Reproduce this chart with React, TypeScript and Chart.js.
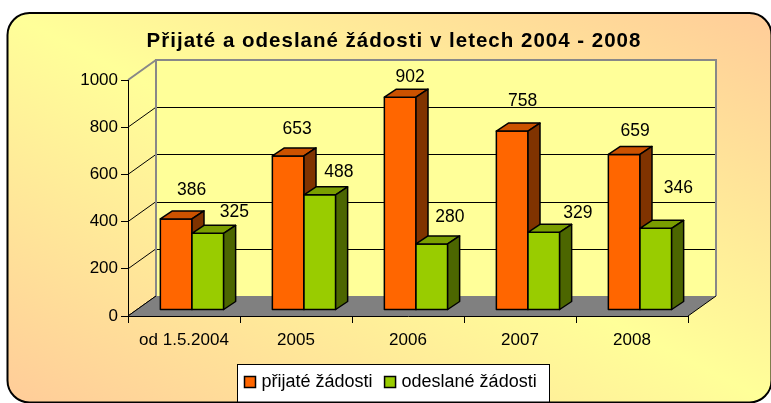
import React, { useEffect, useRef } from "react";
import { Chart, registerables } from "chart.js";

Chart.register(...registerables);

// ---------- data ----------
const TITLE = "Přijaté a odeslané žádosti v letech 2004 - 2008";
const CATEGORIES = ["od 1.5.2004", "2005", "2006", "2007", "2008"];
const SERIES_NAMES = ["přijaté žádosti", "odeslané žádosti"];
const RECEIVED = [386, 653, 902, 758, 659];
const SENT = [325, 488, 280, 329, 346];
const Y_MIN = 0;
const Y_MAX = 1000;
const Y_STEP = 200;

// ---------- styles ----------
const FONT = "'Liberation Sans', Arial, sans-serif";
const FACES = [
  { front: "#FF6600", top: "#CC5200", side: "#803300" },
  { front: "#99CC00", top: "#7A9E00", side: "#4C6600" },
];
// label nudges relative to the front-top centre of each bar (text placement only)
const LABEL_NUDGE = [
  [[15.5, -29], [9, -27], [10, -20], [10.5, -30], [11, -23.5]],
  [[26.5, -21], [19, -23], [18, -26.5], [34, -19.5], [22.5, -40]],
];
const WALL = { dx: 28, dy: -20 };
const BAR_FRONT = { dx: 8, dy: -6 };
const BAR_DEPTH = { dx: 12, dy: -8 };

const W = 771;
const H = 403;

const excel3d = {
  id: "excel3d",
  beforeDraw(chart: any) {
    const ctx = chart.ctx as CanvasRenderingContext2D;
    const { left, right, top, bottom } = chart.chartArea;
    const ys = chart.scales.y;
    ctx.save();
    ctx.fillStyle = "#ffffff";
    ctx.fillRect(0, 0, W, H);

    // outer frame with mirrored diagonal gradient
    const fx = 7.5, fy = 13, fw = 764, fh = 389.5;
    const cx = fx + fw / 2, cy = fy + fh / 2;
    const len = Math.hypot(fw, fh);
    const d = { x: fh / len, y: -fw / len };
    const proj = (fw / 2) * d.x + (-fh / 2) * d.y;
    const g = ctx.createLinearGradient(cx - proj * d.x, cy - proj * d.y, cx + proj * d.x, cy + proj * d.y);
    g.addColorStop(0, "#FFCC99");
    g.addColorStop(0.5, "#FFFF99");
    g.addColorStop(1, "#FFCC99");
    ctx.beginPath();
    (ctx as any).roundRect(fx, fy, fw, fh, 22);
    ctx.fillStyle = g;
    ctx.fill();
    ctx.lineWidth = 2;
    ctx.strokeStyle = "#000";
    ctx.stroke();

    // title
    ctx.fillStyle = "#000";
    ctx.font = `bold 20.5px ${FONT}`;
    (ctx as any).letterSpacing = "1px";
    ctx.textAlign = "center";
    ctx.textBaseline = "alphabetic";
    ctx.fillText(TITLE, 394, 47);
    (ctx as any).letterSpacing = "0px";

    // back wall
    const bx0 = left + WALL.dx, bx1 = right + WALL.dx;
    const by0 = top + WALL.dy, by1 = bottom + WALL.dy;
    ctx.fillStyle = "#FFFF99";
    ctx.fillRect(bx0, by0, bx1 - bx0, by1 - by0);

    // gridlines on back wall + diagonals on side wall
    ctx.lineWidth = 1;
    for (let v = Y_MIN; v <= Y_MAX; v += Y_STEP) {
      const yy = ys.getPixelForValue(v);
      if (v > Y_MIN && v < Y_MAX) {
        ctx.strokeStyle = "#000";
        ctx.beginPath();
        ctx.moveTo(bx0, Math.round(yy + WALL.dy) + 0.5);
        ctx.lineTo(bx1, Math.round(yy + WALL.dy) + 0.5);
        ctx.stroke();
      }
      ctx.strokeStyle = v === Y_MAX ? "#888" : "#000";
      ctx.lineWidth = v === Y_MAX ? 2 : 1;
      ctx.beginPath();
      ctx.moveTo(left, yy);
      ctx.lineTo(bx0, yy + WALL.dy);
      ctx.stroke();
      ctx.lineWidth = 1;
    }

    // back wall border
    ctx.strokeStyle = "#888";
    ctx.lineWidth = 2;
    ctx.beginPath();
    ctx.moveTo(bx0, by1);
    ctx.lineTo(bx0, by0);
    ctx.lineTo(bx1, by0);
    ctx.lineTo(bx1, by1);
    ctx.stroke();

    // floor
    ctx.fillStyle = "#808080";
    ctx.beginPath();
    ctx.moveTo(left, bottom);
    ctx.lineTo(right, bottom);
    ctx.lineTo(bx1, by1);
    ctx.lineTo(bx0, by1);
    ctx.closePath();
    ctx.fill();
    ctx.strokeStyle = "#000";
    ctx.lineWidth = 1;
    ctx.beginPath();
    ctx.moveTo(left, bottom);
    ctx.lineTo(bx0, by1);
    ctx.moveTo(right, bottom);
    ctx.lineTo(bx1, by1);
    ctx.stroke();
    ctx.restore();
  },
  beforeDatasetsDraw(chart: any) {
    const ctx = chart.ctx as CanvasRenderingContext2D;
    const metas = [chart.getDatasetMeta(0), chart.getDatasetMeta(1)];
    ctx.save();
    ctx.lineWidth = 1.5;
    ctx.lineJoin = "round";
    ctx.strokeStyle = "#000";
    for (let i = 0; i < CATEGORIES.length; i++) {
      for (let s = 0; s < metas.length; s++) {
        const el = metas[s].data[i];
        const p = el.getProps(["x", "y", "base", "width"], true);
        const x0 = p.x - p.width / 2 + BAR_FRONT.dx;
        const x1 = p.x + p.width / 2 + BAR_FRONT.dx;
        const yt = p.y + BAR_FRONT.dy;
        const yb = p.base + BAR_FRONT.dy;
        const f = FACES[s];
        // front
        ctx.fillStyle = f.front;
        ctx.beginPath();
        ctx.rect(x0, yt, x1 - x0, yb - yt);
        ctx.fill();
        ctx.stroke();
        // top
        ctx.fillStyle = f.top;
        ctx.beginPath();
        ctx.moveTo(x0, yt);
        ctx.lineTo(x1, yt);
        ctx.lineTo(x1 + BAR_DEPTH.dx, yt + BAR_DEPTH.dy);
        ctx.lineTo(x0 + BAR_DEPTH.dx, yt + BAR_DEPTH.dy);
        ctx.closePath();
        ctx.fill();
        ctx.stroke();
        // side
        ctx.fillStyle = f.side;
        ctx.beginPath();
        ctx.moveTo(x1, yt);
        ctx.lineTo(x1 + BAR_DEPTH.dx, yt + BAR_DEPTH.dy);
        ctx.lineTo(x1 + BAR_DEPTH.dx, yb + BAR_DEPTH.dy);
        ctx.lineTo(x1, yb);
        ctx.closePath();
        ctx.fill();
        ctx.stroke();
      }
    }
    ctx.restore();
    return false;
  },
  afterDraw(chart: any) {
    const ctx = chart.ctx as CanvasRenderingContext2D;
    ctx.save();
    // data labels
    ctx.fillStyle = "#000";
    ctx.font = `17.5px ${FONT}`;
    ctx.textAlign = "center";
    ctx.textBaseline = "middle";
    for (let s = 0; s < 2; s++) {
      const meta = chart.getDatasetMeta(s);
      const values = chart.data.datasets[s].data;
      meta.data.forEach((el: any, i: number) => {
        const p = el.getProps(["x", "y"], true);
        const [nx, ny] = LABEL_NUDGE[s][i];
        ctx.fillText(String(values[i]), p.x + BAR_FRONT.dx + nx, p.y + BAR_FRONT.dy + ny);
      });
    }

    // legend
    const lx = 237.5, ly = 364.5, lw = 312, lh = 37.5;
    ctx.fillStyle = "#fff";
    ctx.fillRect(lx, ly, lw, lh);
    ctx.strokeStyle = "#000";
    ctx.lineWidth = 1;
    ctx.strokeRect(lx, ly, lw, lh);
    ctx.font = `18px ${FONT}`;
    ctx.textAlign = "left";
    ctx.textBaseline = "alphabetic";
    let x = 244.5;
    for (let s = 0; s < 2; s++) {
      ctx.fillStyle = FACES[s].front;
      ctx.fillRect(x, 376.5, 11, 11);
      ctx.lineWidth = 1.5;
      ctx.strokeStyle = "#000";
      ctx.strokeRect(x, 376.5, 11, 11);
      ctx.fillStyle = "#000";
      const tx = x + 17;
      ctx.fillText(SERIES_NAMES[s], tx, 386.5);
      x = tx + ctx.measureText(SERIES_NAMES[s]).width + 12;
    }
    ctx.restore();
  },
};

export default function App() {
  const ref = useRef<HTMLCanvasElement | null>(null);
  useEffect(() => {
    document.body.style.margin = "0";
    const canvas = ref.current!;
    const chart = new Chart(canvas, {
      type: "bar",
      data: {
        labels: CATEGORIES,
        datasets: [
          { label: SERIES_NAMES[0], data: RECEIVED, backgroundColor: FACES[0].front },
          { label: SERIES_NAMES[1], data: SENT, backgroundColor: FACES[1].front },
        ],
      },
      options: {
        responsive: false,
        animation: false,
        devicePixelRatio: 1,
        layout: { padding: { top: 80, right: 83, left: 0, bottom: 0 } },
        datasets: { bar: { categoryPercentage: 0.565, barPercentage: 1 } },
        plugins: {
          legend: { display: false },
          title: { display: false },
          tooltip: { enabled: false },
        },
        scales: {
          x: {
            grid: {
              display: true,
              drawOnChartArea: false,
              drawTicks: true,
              tickLength: 7,
              color: "#000",
              lineWidth: 1,
              offset: true,
            },
            border: { display: true, color: "#000", width: 1 },
            ticks: {
              color: "#000",
              font: { family: FONT, size: 17 },
              padding: 7,
              maxRotation: 0,
              autoSkip: false,
            },
            afterFit: (s: any) => {
              s.height = 87;
            },
          },
          y: {
            min: Y_MIN,
            max: Y_MAX,
            ticks: {
              stepSize: Y_STEP,
              color: "#000",
              font: { family: FONT, size: 17 },
              padding: 3,
              callback: (v: any) => String(v),
            },
            grid: {
              display: true,
              drawOnChartArea: false,
              drawTicks: true,
              tickLength: 7,
              color: "#000",
              lineWidth: 1,
            },
            border: { display: true, color: "#000", width: 1 },
            afterFit: (s: any) => {
              s.width = 128;
            },
          },
        },
      },
      plugins: [excel3d],
    } as any);
    return () => chart.destroy();
  }, []);
  return (
    <div style={{ width: W, height: H }}>
      <canvas ref={ref} width={W} height={H} style={{ display: "block" }} />
    </div>
  );
}
